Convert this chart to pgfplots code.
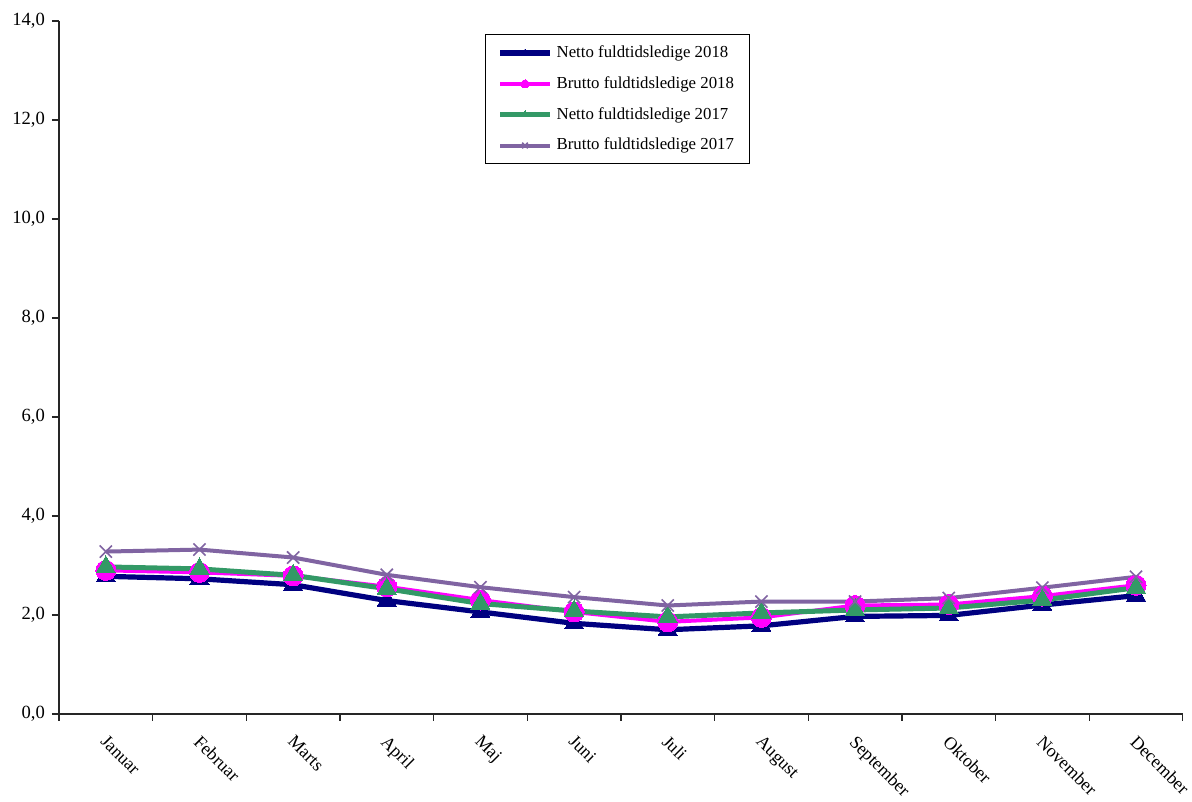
\documentclass[border=0pt]{standalone}
\usepackage{fontspec}
\setmainfont{Liberation Serif}
\usepackage{pgfplots}
\pgfplotsset{compat=1.18}
\usetikzlibrary{calc}

\definecolor{netto18}{HTML}{000080}
\definecolor{brutto18}{HTML}{FF00FF}
\definecolor{netto17}{HTML}{339966}
\definecolor{brutto17}{HTML}{8064A2}

\begin{document}
\begin{tikzpicture}
\begin{axis}[
    scale only axis,
    width=562pt, height=346.5pt,
    font=\fontsize{8.4}{10}\selectfont,
    tick label style={font=\fontsize{9.3}{11}\selectfont},
    axis lines*=left,
    axis line style={black!85, line width=0.6pt},
    xmin=0.5, xmax=12.5,
    ymin=0, ymax=14,
    ytick={0,2,...,14},
    yticklabel style={/pgf/number format/.cd, use comma, fixed, fixed zerofill, precision=1, assume math mode=true},
    xtick={1,...,12},
    xticklabels={Januar,Februar,Marts,April,Maj,Juni,Juli,August,September,Oktober,November,December},
    xticklabel style={rotate=-45, anchor=north west, inner sep=0.5pt, xshift=4.8pt, yshift=-3.2pt,
        font=\fontsize{9}{11}\selectfont},
    minor xtick={0.5,1.5,...,12.5},
    tick align=outside,
    tick style={black!85, line width=0.6pt},
    major x tick style={draw=none},
    minor tick length=3.5pt,
    major tick length=3.5pt,
    legend style={at={(0.379,0.981)}, anchor=north west, draw=black, line width=0.5pt,
        inner xsep=6pt, inner ysep=3.5pt, row sep=4pt,
        font=\fontsize{8.4}{10}\selectfont},
    legend cell align=left,
    legend image code/.code={\draw[#1, mark size=2pt, mark repeat=2, mark phase=2] plot coordinates {(0pt,0pt) (12.5pt,0pt) (25pt,0pt)};},
    clip=false,
]
\addplot[netto18, line width=2.6pt, mark=triangle*, mark size=5.5pt, mark options={solid, line width=0pt}]
    coordinates {(1,2.78) (2,2.73) (3,2.61) (4,2.29) (5,2.06) (6,1.83) (7,1.70) (8,1.78) (9,1.97) (10,1.99) (11,2.20) (12,2.39)};
\addlegendentry{Netto fuldtidsledige 2018}
\addplot[brutto18, line width=2pt, mark=*, mark size=5pt, mark options={solid, line width=0pt}]
    coordinates {(1,2.90) (2,2.86) (3,2.79) (4,2.57) (5,2.30) (6,2.06) (7,1.86) (8,1.95) (9,2.19) (10,2.21) (11,2.38) (12,2.60)};
\addlegendentry{Brutto fuldtidsledige 2018}
\addplot[netto17, line width=2.5pt, mark=triangle*, mark size=5.5pt, mark options={solid, line width=0pt}]
    coordinates {(1,2.97) (2,2.93) (3,2.80) (4,2.53) (5,2.23) (6,2.08) (7,1.96) (8,2.04) (9,2.10) (10,2.14) (11,2.30) (12,2.55)};
\addlegendentry{Netto fuldtidsledige 2017}
\addplot[brutto17, line width=2pt, mark=x, mark size=4.3pt, mark options={solid, line width=0.8pt}]
    coordinates {(1,3.28) (2,3.32) (3,3.16) (4,2.81) (5,2.56) (6,2.36) (7,2.19) (8,2.27) (9,2.27) (10,2.34) (11,2.55) (12,2.77)};
\addlegendentry{Brutto fuldtidsledige 2017}
\end{axis}
\path ($(current axis.south west)+(-29.5pt,-40pt)$) rectangle ($(current axis.north east)+(4.5pt,10.5pt)$);
\end{tikzpicture}
\end{document}
